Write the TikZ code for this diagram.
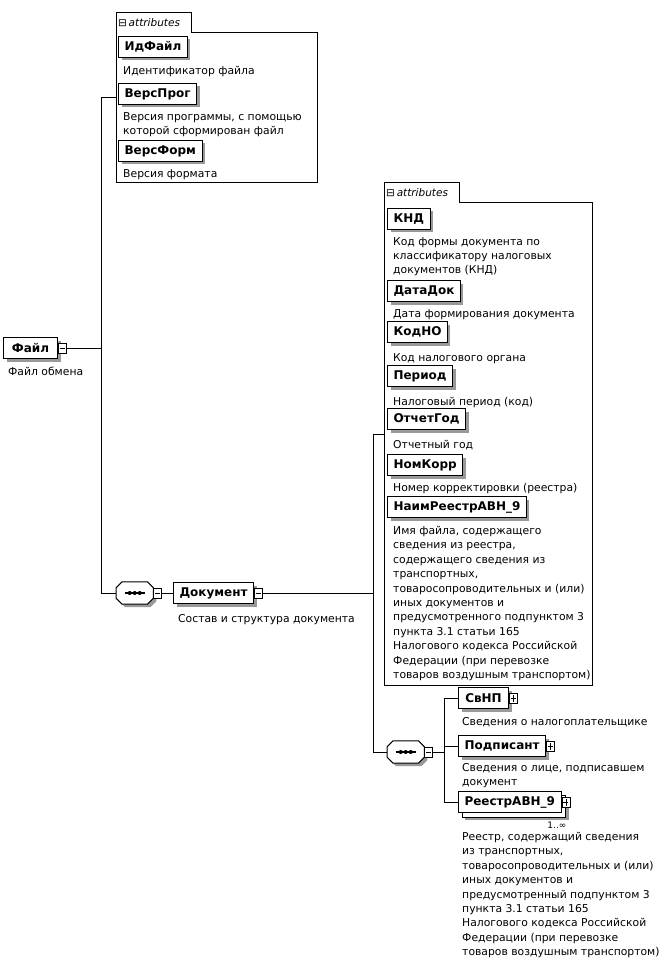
\documentclass[tikz,border=0pt]{standalone}
\usepackage{fontspec}
\setmainfont{DejaVu Sans}
\usetikzlibrary{positioning,calc,shadows,fit,backgrounds}

\newcommand{\descfont}{\fontsize{10.8}{14.4}\selectfont}
\newcommand{\elemfont}{\fontsize{12}{14}\selectfont\bfseries}
% octagon of a sequence compositor, drawn round a named node
\newcommand{\seqoutline}[1]{%
    \draw[line width=1pt, fill=white, drop shadow={shadow xshift=3pt, shadow yshift=-3pt, fill=black!40, opacity=1}]
        ([xshift=6pt]#1.north west) -- ([xshift=-6pt]#1.north east) -- ([yshift=-6pt]#1.north east)
        -- ([yshift=6pt]#1.south east) -- ([xshift=-6pt]#1.south east) -- ([xshift=6pt]#1.south west)
        -- ([yshift=6pt]#1.south west) -- ([yshift=-6pt]#1.north west) -- cycle;
    \draw[line width=1.2pt] ([xshift=-10pt]#1.center) -- ([xshift=10pt]#1.center);
    \foreach \d in {-5,0,5} \fill ([xshift=\d pt]#1.center) circle (2pt);}

\begin{document}
\begin{tikzpicture}[x=1pt,y=-1pt,
    elemplain/.style={draw, line width=1pt, fill=white, font=\elemfont, anchor=west,
        minimum height=21pt, minimum width=50pt, inner xsep=6pt, inner ysep=0pt},
    elembox/.style={elemplain, drop shadow={shadow xshift=3pt, shadow yshift=-3pt, fill=black!40, opacity=1}},
    minusbox/.style={draw, fill=white, anchor=west, minimum width=8pt, minimum height=10pt, inner sep=0pt,
        path picture={\draw ([xshift=1.5pt]path picture bounding box.west) -- ([xshift=-1.5pt]path picture bounding box.east);}},
    plusbox/.style={draw, fill=white, anchor=west, minimum width=8pt, minimum height=10pt, inner sep=0pt,
        path picture={\draw ([xshift=1.5pt]path picture bounding box.west) -- ([xshift=-1.5pt]path picture bounding box.east);
                      \draw ([yshift=1.5pt]path picture bounding box.south) -- ([yshift=-1.5pt]path picture bounding box.north);}},
    seqbox/.style={anchor=west, minimum width=37pt, minimum height=22pt, inner sep=0pt},
    attrbox/.style={anchor=north west, inner sep=0pt},
    tabbox/.style={anchor=south west, minimum width=75pt, minimum height=20pt, inner xsep=2pt, inner ysep=0pt,
        font=\fontsize{10.5}{12}\selectfont},
    desctext/.style={anchor=north west, align=left, inner sep=0pt, font=\descfont},
    conn/.style={line width=0.9pt}
    ]
    \useasboundingbox (0,0) rectangle (666,965);

    % attributes of Файл
    \node[attrbox, minimum width=201pt, minimum height=149pt] (attrA) at (116,33) {};
    \node[tabbox] (tabA) at (attrA.north west) {\makebox[71pt][l]{⊟\,\textit{attributes}}};
    \draw[line width=1pt] (attrA.south west) -- (tabA.north west) -- (tabA.north east) -- (tabA.south east)
        -- (attrA.north east) -- (attrA.south east) -- cycle;

    \node[elembox] (IdFajl) at (118,47) {ИдФайл};
    \node[desctext] (IdFajlDesc) at (123,66) {Идентификатор файла};
    \node[elembox] (VersProg) at (118,94) {ВерсПрог};
    \node[desctext] (VersProgDesc) at (123,112) {Версия программы, с помощью\\которой сформирован файл};
    \node[elembox] (VersForm) at (118,151) {ВерсФорм};
    \node[desctext] (VersFormDesc) at (123,169) {Версия формата};

    % Файл
    \node[elembox, minimum width=54pt] (Fajl) at (3,348) {Файл};
    \node[minusbox] (FajlSign) at (Fajl.east) {};
    \node[desctext] (FajlDesc) at (8,367) {Файл обмена};

    \node[seqbox] (seqA) at (116,593) {};
    \seqoutline{seqA}
    \node[minusbox] (seqASign) at (seqA.east) {};
    \node[elembox] (Dokument) at (173,593) {Документ};
    \node[minusbox] (DokumentSign) at (Dokument.east) {};
    \node[desctext] (DokumentDesc) at (178,614) {Состав и структура документа};

    \coordinate (busA) at ([xshift=-15pt]seqA.west);
    \draw[conn] ($(tabA.north west)!.5!(attrA.south west)$) -| (busA) -- (seqA.west);
    \draw[conn] (FajlSign.east) -- (FajlSign.east -| busA);
    \draw[conn] (seqASign.east) -- (Dokument.west);

    % attributes of Документ
    \node[attrbox, minimum width=208pt, minimum height=482pt] (attrB) at (384,203) {};
    \node[tabbox] (tabB) at (attrB.north west) {\makebox[71pt][l]{⊟\,\textit{attributes}}};
    \draw[line width=1pt] (attrB.south west) -- (tabB.north west) -- (tabB.north east) -- (tabB.south east)
        -- (attrB.north east) -- (attrB.south east) -- cycle;

    \node[elembox, minimum width=0pt] (KND) at (387,219) {КНД\hspace{8pt}};
    \node[desctext] (KNDDesc) at (393,237) {Код формы документа по\\классификатору налоговых\\документов (КНД)};
    \node[elembox] (DataDok) at (387,291) {ДатаДок};
    \node[desctext] (DataDokDesc) at (393,309) {Дата формирования документа};
    \node[elembox] (KodNO) at (387,332) {КодНО};
    \node[desctext] (KodNODesc) at (393,353) {Код налогового органа};
    \node[elembox] (Period) at (387,376) {Период};
    \node[desctext] (PeriodDesc) at (393,397) {Налоговый период (код)};
    \node[elembox] (OtchetGod) at (387,419) {ОтчетГод};
    \node[desctext] (OtchetGodDesc) at (393,440) {Отчетный год};
    \node[elembox] (NomKorr) at (387,465) {НомКорр};
    \node[desctext] (NomKorrDesc) at (393,483) {Номер корректировки (реестра)};
    \node[elembox] (NaimReestr) at (387,507) {НаимРеестрАВН\_9};
    \node[desctext] (NaimReestrDesc) at (393,526) {Имя файла, содержащего\\сведения из реестра,\\содержащего сведения из\\транспортных,\\товаросопроводительных и (или)\\иных документов и\\предусмотренного подпунктом 3\\пункта 3.1 статьи 165\\Налогового кодекса Российской\\Федерации (при перевозке\\товаров воздушным транспортом)};

    % sequence of Документ
    \node[seqbox] (seqB) at (387,752) {};
    \seqoutline{seqB}
    \node[minusbox] (seqBSign) at (seqB.east) {};
    \coordinate (busB) at ([xshift=-14pt]seqB.west);
    \draw[conn] ($(tabB.north west)!.5!(attrB.south west)$) -| (busB) -- (seqB.west);
    \draw[conn] (DokumentSign.east) -- (DokumentSign.east -| busB);

    \node[elembox] (SvNP) at (458,698) {СвНП};
    \node[plusbox] (SvNPSign) at (SvNP.east) {};
    \node[desctext] (SvNPDesc) at (462,717) {Сведения о налогоплательщике};
    \node[elembox] (Podpisant) at (458,746) {Подписант};
    \node[plusbox] (PodpisantSign) at (Podpisant.east) {};
    \node[desctext] (PodpisantDesc) at (462,763) {Сведения о лице, подписавшем\\документ};
    \node[elemplain] (Reestr) at (458,802) {РеестрАВН\_9};
    \begin{scope}[on background layer]
        \node[elembox, fit=(Reestr), inner sep=0pt, xshift=4pt, yshift=-4pt] (ReestrBack) {};
    \end{scope}
    \node[plusbox] (ReestrSign) at (Reestr.east) {};
    \node[anchor=north east, inner sep=0pt, font=\fontsize{9}{10}\selectfont] (ReestrOcc)
        at ([xshift=5pt,yshift=-9pt]Reestr.south east) {1..∞};
    \node[desctext] (ReestrDesc) at (462,832) {Реестр, содержащий сведения\\из транспортных,\\товаросопроводительных и (или)\\иных документов и\\предусмотренный подпунктом 3\\пункта 3.1 статьи 165\\Налогового кодекса Российской\\Федерации (при перевозке\\товаров воздушным транспортом)};

    \coordinate (busC) at ([xshift=12pt]seqBSign.east);
    \draw[conn] (seqBSign.east) -- (busC);
    \draw[conn] (SvNP.west) -| (busC) |- (Reestr.west);
    \draw[conn] (busC |- Podpisant.west) -- (Podpisant.west);

\end{tikzpicture}
\end{document}
